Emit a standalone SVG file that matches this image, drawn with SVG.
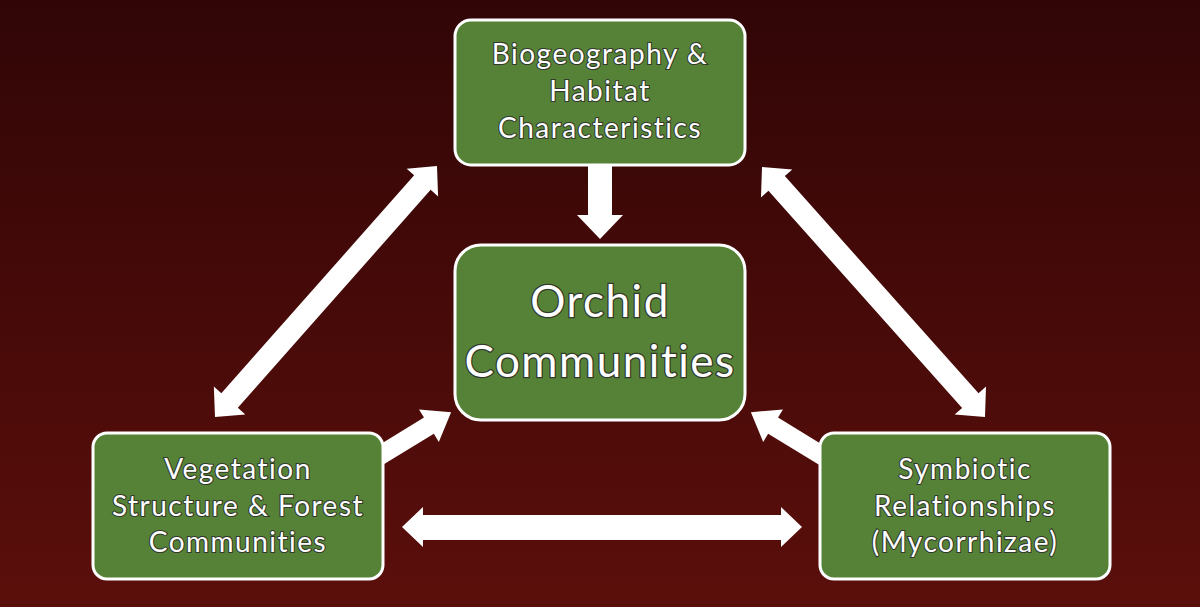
<svg xmlns="http://www.w3.org/2000/svg" width="1200" height="607" viewBox="0 0 1200 607">
<defs>
<linearGradient id="bg" x1="0" y1="0" x2="0" y2="1">
<stop offset="0" stop-color="#310506"/>
<stop offset="1" stop-color="#5b0f0b"/>
</linearGradient>
</defs>
<style>
.box{fill:#558236;stroke:#ffffff;stroke-width:3}
.t{font-family:Lato,"Liberation Sans",sans-serif;font-variant-ligatures:none;fill:#ffffff;stroke:#2b2b2b;stroke-width:2.2;stroke-opacity:0.85;paint-order:stroke;text-anchor:middle;font-size:28px;letter-spacing:1.5px}
.big{font-size:44px;stroke-width:2.6;letter-spacing:1.5px}
.arr{fill:#ffffff}
</style>
<rect x="0" y="0" width="1200" height="607" fill="url(#bg)"/>
<g id="connectors">
<polygon class="arr" points="588,160 612,160 612,215 623,215 600,239 577,215 588,215"/>
<g transform="translate(215,417) rotate(-48.5)">
<polygon class="arr" points="0,0 22,-21 22,-11 313,-11 313,-21 335,0 313,21 313,11 22,11 22,21"/>
</g>
<g transform="translate(762,167) rotate(48.27)">
<polygon class="arr" points="0,0 22,-21 22,-11 313,-11 313,-21 335,0 313,21 313,11 22,11 22,21"/>
</g>
<polygon class="arr" points="402,527 423,507 423,515 781,515 781,507 802,527 781,547 781,540 423,540 423,547"/>
<g transform="translate(376,458) rotate(-31.4)">
<polygon class="arr" points="0,-9.5 62,-9.5 62,-19 88,0 62,19 62,9.5 0,9.5"/>
</g>
<g transform="translate(826,458) rotate(211.4)">
<polygon class="arr" points="0,-9.5 62,-9.5 62,-19 88,0 62,19 62,9.5 0,9.5"/>
</g>
</g>
<g id="biogeography">
<rect class="box" x="455" y="20" width="290" height="145" rx="16"/>
<text class="t" x="600" y="64">Biogeography &amp;</text>
<text class="t" x="600" y="101">Habitat</text>
<text class="t" x="600" y="138">Characteristics</text>
</g>
<g id="orchid">
<rect class="box" x="455" y="245" width="290" height="175" rx="26"/>
<text class="t big" x="600" y="317">Orchid</text>
<text class="t big" x="600" y="377">Communities</text>
</g>
<g id="vegetation">
<rect class="box" x="93" y="433" width="290" height="146" rx="14"/>
<text class="t" x="238" y="479">Vegetation</text>
<text class="t" x="238" y="516">Structure &amp; Forest</text>
<text class="t" x="238" y="552">Communities</text>
</g>
<g id="symbiotic">
<rect class="box" x="820" y="433" width="290" height="146" rx="14"/>
<text class="t" x="965" y="479">Symbiotic</text>
<text class="t" x="965" y="516">Relationships</text>
<text class="t" x="965" y="552">(Mycorrhizae)</text>
</g>
</svg>
